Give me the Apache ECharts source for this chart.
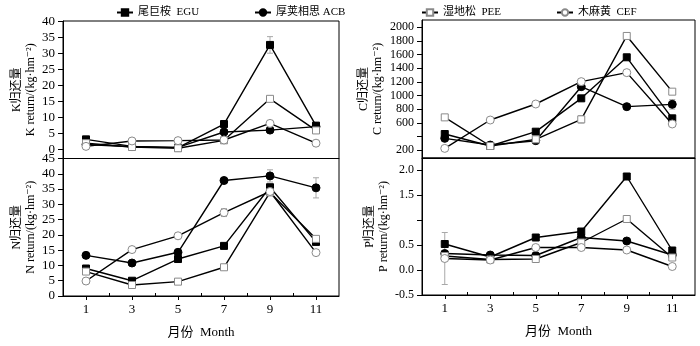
<!DOCTYPE html>
<html><head><meta charset="utf-8">
<script src="https://cdn.jsdelivr.net/npm/echarts@6/dist/echarts.min.js"></script>
<style>html,body{margin:0;padding:0;background:#fff}#c{width:700px;height:346px}</style>
</head><body><div id="c"></div>
<script>
// ---- data ----
const months = [1, 3, 5, 7, 9, 11];
const seriesNames = ['尾巨桉  EGU', '厚荚相思 ACB', '湿地松  PEE', '木麻黄  CEF'];

const kEGU = [3.1, 0.9, 0.5, 7.9, 32.7, 7.4];
const kACB = [1.5, 0.8, 0.6, 5.4, 6.0, 7.1];
const kPEE = [1.9, 0.7, 0.3, 2.8, 15.8, 5.9];
const kCEF = [0.9, 2.6, 2.7, 2.9, 8.1, 1.9];
const kEGUErr = [0, 0, 0, 0, 2.6, 0];

const nEGU = [9.0, 5.0, 12.1, 16.4, 35.6, 17.7];
const nACB = [13.3, 10.8, 14.3, 37.8, 39.3, 35.4];
const nPEE = [8.0, 3.6, 4.7, 9.4, 33.9, 18.7];
const nCEF = [4.9, 15.2, 19.7, 27.3, 34.2, 14.2];
const nACBErr = [0, 0, 0, 0, 2.0, 3.3];
const nCEFErr = [0, 0, 0, 1.3, 0, 0];

const cEGU = [435, 259, 469, 958, 1560, 665];
const cACB = [371, 273, 337, 1129, 836, 870];
const cPEE = [679, 259, 357, 650, 1873, 1056];
const cCEF = [224, 640, 875, 1203, 1335, 582];
const cACBErr = [0, 0, 0, 0, 0, 70];
const cPEEErr = [0, 0, 0, 55, 0, 0];

const pEGU = [0.52, 0.26, 0.65, 0.77, 1.87, 0.39];
const pACB = [0.33, 0.30, 0.29, 0.65, 0.58, 0.30];
const pPEE = [0.28, 0.21, 0.22, 0.55, 1.02, 0.25];
const pCEF = [0.23, 0.20, 0.45, 0.45, 0.40, 0.07];
const pCEFErr = [0.52, 0, 0, 0, 0, 0];

const monthTicks = [1, 3, 5, 7, 9, 11];
const minorMonthTicks = [2, 4, 6, 8, 10];
const kTicks = [0, 5, 10, 15, 20, 25, 30, 35, 40];
const nTicks = [0, 5, 10, 15, 20, 25, 30, 35, 40, 45];
const cTicks = [200, 400, 600, 800, 1000, 1200, 1400, 1600, 1800, 2000];
const cLabels = [200, 600, 800, 1000, 1200, 1400, 1600, 1800, 2000];
const pTicks = [-0.5, 0, 0.5, 1.0, 1.5, 2.0];
const pLabels = [-0.5, 0, 0.5, 1.5, 2.0];

const xName = '月份  Month';
const kName = 'K归还量\nK return/(kg·hm⁻²)';
const nName = 'N归还量\nN return/(kg·hm⁻²)';
const cName = 'C归还量\nC return/(kg·hm⁻²)';
const pName = 'P归还量\nP return/(kg·hm⁻²)';

// ---- chart ----
const FONT = "'Liberation Serif','DejaVu Serif','Noto Sans CJK SC',serif";
const chart = echarts.init(document.getElementById('c'), null, {renderer: 'canvas'});

const grids = [
  {left: 63, top: 21, width: 276, height: 137.5},
  {left: 63, top: 158.5, width: 276, height: 137.5},
  {left: 422, top: 20, width: 273, height: 138},
  {left: 422, top: 158, width: 273, height: 137}
].map(g => Object.assign({show: true, borderColor: '#000', borderWidth: 1, backgroundColor: 'transparent'}, g));

const xAxes = [];
grids.forEach((g, i) => {
  const bottom = (i === 1 || i === 3);
  xAxes.push({
    type: 'value', gridIndex: i, min: 0, max: 12, position: 'bottom',
    axisLine: {show: true, onZero: false, lineStyle: {color: '#000', width: 1}},
    axisTick: {show: bottom, inside: false, length: 4, customValues: monthTicks, lineStyle: {color: '#000'}},
    axisLabel: {show: bottom, customValues: monthTicks, margin: 7, color: '#000', fontFamily: FONT, fontSize: 13},
    splitLine: {show: false},
    name: bottom ? xName : '', nameLocation: 'middle', nameGap: 30,
    nameTextStyle: {fontFamily: FONT, fontSize: 13, color: '#000'}
  });
  xAxes.push({
    type: 'value', gridIndex: i, min: 0, max: 12, position: 'bottom',
    axisLine: {show: false, onZero: false},
    axisTick: {show: bottom, inside: true, length: 3, customValues: minorMonthTicks, lineStyle: {color: '#000'}},
    axisLabel: {show: false}, splitLine: {show: false}
  });
});

function yAx(grid, min, max, ticks, labels, name, fmt, gap, fs) {
  return {
    type: 'value', gridIndex: grid, min: min, max: max, position: 'left',
    axisLine: {show: true, onZero: false, lineStyle: {color: '#000', width: 1}},
    axisTick: {show: true, inside: false, length: 5, customValues: ticks, lineStyle: {color: '#000'}},
    axisLabel: {customValues: labels, formatter: fmt, margin: 8, color: '#000', fontFamily: FONT, fontSize: fs},
    splitLine: {show: false},
    name: name, nameLocation: 'middle', nameRotate: 90, nameGap: gap,
    nameTextStyle: {fontFamily: FONT, fontSize: 12, color: '#000', lineHeight: 14}
  };
}
const yAxes = [
  yAx(0, -2.9, 40.2, kTicks, kTicks, kName, v => String(v), 23, 13),
  yAx(1, 0, 45, nTicks, nTicks, nName, v => String(v), 23, 13),
  yAx(2, 83, 2107, cTicks, cLabels, cName, v => String(v), 37, 12),
  yAx(3, -0.5, 2.24, pTicks, pLabels, pName, v => v.toFixed(1), 26, 12)
];

const styles = [
  {symbol: 'rect', symbolSize: 7, itemStyle: {color: '#000', borderColor: '#000', borderWidth: 1}},
  {symbol: 'circle', symbolSize: 8, itemStyle: {color: '#000', borderColor: '#000', borderWidth: 1}},
  {symbol: 'rect', symbolSize: 7, itemStyle: {color: '#fff', borderColor: '#8a8a8a', borderWidth: 1}},
  {symbol: 'circle', symbolSize: 8, itemStyle: {color: '#fff', borderColor: '#8a8a8a', borderWidth: 1}}
];

const panels = [
  {vals: [kEGU, kACB, kPEE, kCEF], errs: [kEGUErr, null, null, null]},
  {vals: [nEGU, nACB, nPEE, nCEF], errs: [null, nACBErr, null, nCEFErr]},
  {vals: [cEGU, cACB, cPEE, cCEF], errs: [null, cACBErr, cPEEErr, null]},
  {vals: [pEGU, pACB, pPEE, pCEF], errs: [null, null, null, pCEFErr]}
];

const series = [];
panels.forEach((p, gi) => {
  const errData = [];
  p.errs.forEach((e, si) => {
    if (!e) return;
    e.forEach((v, k) => { if (v > 0) errData.push([months[k], p.vals[si][k], v]); });
  });
  series.push({
    type: 'custom', xAxisIndex: gi * 2, yAxisIndex: gi, z: 1, silent: true,
    data: errData,
    renderItem: function (params, api) {
      const x = api.value(0), y = api.value(1), e = api.value(2);
      const t = api.coord([x, y + e]), b = api.coord([x, y - e]);
      const st = {stroke: '#a8a8a8', lineWidth: 1};
      return {type: 'group', children: [
        {type: 'line', shape: {x1: t[0], y1: t[1], x2: b[0], y2: b[1]}, style: st},
        {type: 'line', shape: {x1: t[0] - 3, y1: t[1], x2: t[0] + 3, y2: t[1]}, style: st},
        {type: 'line', shape: {x1: b[0] - 3, y1: b[1], x2: b[0] + 3, y2: b[1]}, style: st}
      ]};
    }
  });
  p.vals.forEach((arr, si) => {
    series.push(Object.assign({
      type: 'line', name: seriesNames[si], xAxisIndex: gi * 2, yAxisIndex: gi, z: 3,
      data: arr.map((v, k) => [months[k], v]),
      showAllSymbol: true,
      lineStyle: {color: '#000', width: 1.4},
      emphasis: {disabled: true}
    }, styles[si]));
  });
});

const legPos = [[111, 2], [249, 2], [416, 2], [551, 2]];
const legends = seriesNames.map((n, i) => ({
  data: [n], left: legPos[i][0], top: legPos[i][1], itemWidth: 16, itemHeight: 8, itemGap: 4,
  textStyle: {fontFamily: FONT, fontSize: 11, color: '#000'}, selectedMode: false
}));

chart.setOption({
  animation: false,
  backgroundColor: '#fff',
  grid: grids, xAxis: xAxes, yAxis: yAxes,
  legend: legends,
  series: series
});
</script></body></html>
